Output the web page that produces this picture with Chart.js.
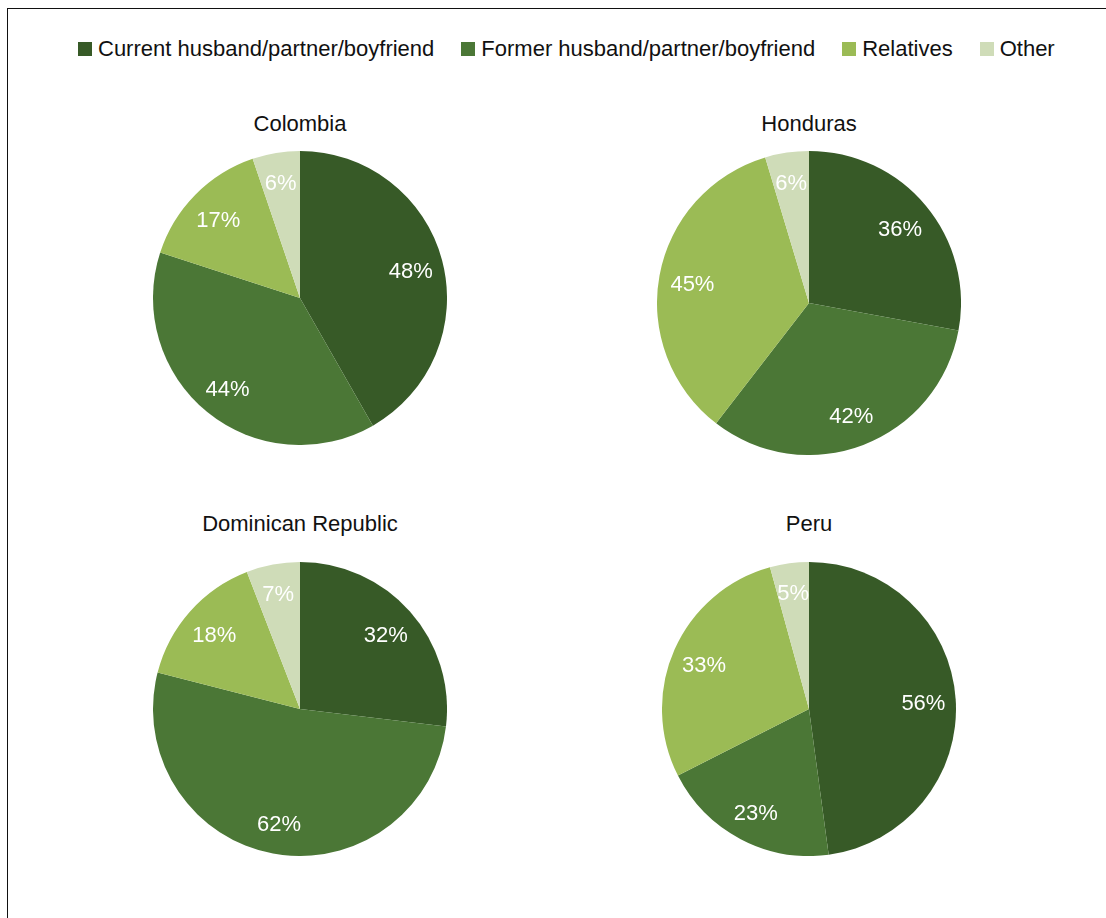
<!DOCTYPE html>
<html>
<head>
<meta charset="utf-8">
<script src="https://cdn.jsdelivr.net/npm/chart.js@4.4.0/dist/chart.umd.min.js"></script>
<style>
  html, body { margin: 0; padding: 0; background: #fff; }
  body { width: 1106px; height: 918px; position: relative; overflow: hidden;
         font-family: "Liberation Sans", Arial, Helvetica, sans-serif; color: #111; }
  .frame { position: absolute; left: 7px; top: 8px; width: 1200px; height: 1000px;
           border-left: 1.5px solid #111; border-top: 1.5px solid #111; }
  .legend { position: absolute; left: 78px; top: 36px; display: flex; gap: 27px;
            font-size: 22px; line-height: 26px; white-space: nowrap; }
  .legend .item { display: flex; align-items: center; }
  .legend .box { width: 14px; height: 14px; margin-right: 6px; }
  .title { position: absolute; width: 400px; text-align: center; font-size: 22px; line-height: 26px; }
  .pie { position: absolute; }
</style>
</head>
<body>
<div class="frame"></div>
<div class="legend" id="legend"></div>
<div id="charts"></div>

<script>
// ── Data ────────────────────────────────────────────────────────────────
const categories = ["Current husband/partner/boyfriend", "Former husband/partner/boyfriend", "Relatives", "Other"];
const COLORS = ["#375a27", "#4b7736", "#9bbb55", "#cfdcb8"];

const countries = ["Colombia", "Honduras", "Dominican Republic", "Peru"];
const colombia = [48, 44, 17, 6];
const honduras = [36, 42, 45, 6];
const dominicanRepublic = [32, 62, 18, 7];
const peru = [56, 23, 33, 5];
const seriesByCountry = [colombia, honduras, dominicanRepublic, peru];

// pie placement: centre x, centre y, radius
const layout = [
  { cx: 300, cy: 298, r: 147, titleTop: 111 },
  { cx: 809, cy: 303, r: 152, titleTop: 111 },
  { cx: 300, cy: 709, r: 147, titleTop: 511 },
  { cx: 809, cy: 709, r: 147, titleTop: 511 },
];

// ── Legend ──────────────────────────────────────────────────────────────
const legendEl = document.getElementById("legend");
legendEl.innerHTML = categories.map((c, i) =>
  `<div class="item"><span class="box" style="background:${COLORS[i]}"></span>${c}</div>`
).join("");

// ── Percent labels inside slices ────────────────────────────────────────
const sliceLabels = {
  id: "sliceLabels",
  afterDatasetsDraw(chart) {
    const ctx = chart.ctx;
    const meta = chart.getDatasetMeta(0);
    const values = chart.data.datasets[0].data;
    ctx.save();
    ctx.font = "22px 'Liberation Sans', Arial, sans-serif";
    ctx.fillStyle = "#ffffff";
    ctx.textAlign = "center";
    ctx.textBaseline = "middle";
    meta.data.forEach((arc, i) => {
      const p = arc.getProps(["x", "y", "startAngle", "endAngle", "outerRadius"], true);
      const mid = (p.startAngle + p.endAngle) / 2;
      // thin slices get their label pushed a bit further out
      const frac = (p.endAngle - p.startAngle) < 0.5 ? 0.81 : 0.78;
      const rr = p.outerRadius * frac;
      ctx.fillText(values[i] + "%", p.x + Math.cos(mid) * rr, p.y + Math.sin(mid) * rr + 3);
    });
    ctx.restore();
  }
};

// ── Pies ────────────────────────────────────────────────────────────────
const chartsEl = document.getElementById("charts");

countries.forEach((name, k) => {
  const L = layout[k];

  const title = document.createElement("div");
  title.className = "title";
  title.style.left = (L.cx - 200) + "px";
  title.style.top = L.titleTop + "px";
  title.textContent = name;
  chartsEl.appendChild(title);

  const box = document.createElement("div");
  box.className = "pie";
  box.style.left = (L.cx - L.r) + "px";
  box.style.top = (L.cy - L.r) + "px";
  box.style.width = (2 * L.r) + "px";
  box.style.height = (2 * L.r) + "px";
  const canvas = document.createElement("canvas");
  box.appendChild(canvas);
  chartsEl.appendChild(box);

  new Chart(canvas, {
    type: "pie",
    data: {
      labels: categories,
      datasets: [{
        data: seriesByCountry[k],
        backgroundColor: COLORS,
        borderWidth: 0,
      }]
    },
    options: {
      responsive: true,
      maintainAspectRatio: false,
      animation: false,
      layout: { padding: 0 },
      plugins: { legend: { display: false }, tooltip: { enabled: false } }
    },
    plugins: [sliceLabels]
  });
});
</script>
</body>
</html>
